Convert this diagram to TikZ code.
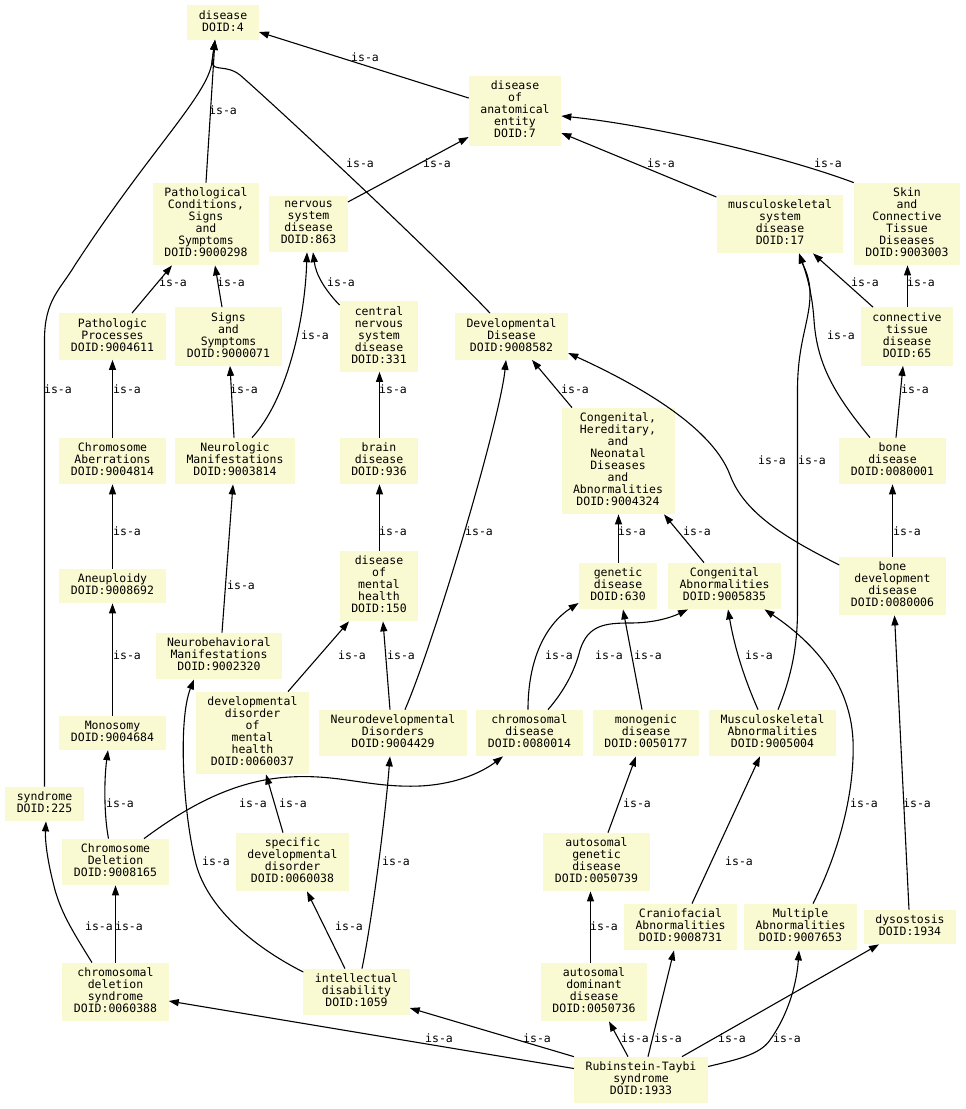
\documentclass[tikz,border=0pt]{standalone}
\usepackage{fontspec}
\newfontfamily\dejamono{DejaVu Sans Mono}
\usetikzlibrary{arrows.meta}
\definecolor{termfill}{HTML}{FAFAD2}

\begin{document}
\begin{tikzpicture}[
  x=1pt, y=-1pt,
  term/.style={fill=termfill, align=center, inner xsep=11.5pt, inner ysep=5pt,
               font=\dejamono\fontsize{11.5}{12}\selectfont,
               execute at begin node=\strut, execute at end node=\strut},
  lbl/.style={font=\dejamono\fontsize{11.5}{12}\selectfont, inner sep=0pt},
  isa/.style={-{Triangle[length=10pt,width=7pt]}, line width=1.1pt}
]
  \useasboundingbox (0,0) rectangle (966,1109);

  % terms, row by row
  \node[term] (n4) at (223,22.5) {disease\\DOID:4};
  \node[term] (n7) at (515,111) {disease\\of\\anatomical\\entity\\DOID:7};

  \node[term] (n9000298) at (206,224) {Pathological\\Conditions,\\Signs\\and\\Symptoms\\DOID:9000298};
  \node[term] (n863) at (308.5,224) {nervous\\system\\disease\\DOID:863};
  \node[term] (n17) at (780,224) {musculoskeletal\\system\\disease\\DOID:17};
  \node[term] (n9003003) at (907,224) {Skin\\and\\Connective\\Tissue\\Diseases\\DOID:9003003};

  \node[term] (n9004611) at (112.5,336.5) {Pathologic\\Processes\\DOID:9004611};
  \node[term] (n9000071) at (228.5,336.5) {Signs\\and\\Symptoms\\DOID:9000071};
  \node[term] (n331) at (379,336.5) {central\\nervous\\system\\disease\\DOID:331};
  \node[term] (n9008582) at (511.5,336.5) {Developmental\\Disease\\DOID:9008582};
  \node[term] (n65) at (907,336.5) {connective\\tissue\\disease\\DOID:65};

  \node[term] (n9004814) at (112.5,461) {Chromosome\\Aberrations\\DOID:9004814};
  \node[term] (n9003814) at (235,461) {Neurologic\\Manifestations\\DOID:9003814};
  \node[term] (n936) at (379,461) {brain\\disease\\DOID:936};
  \node[term] (n9004324) at (618,461) {Congenital,\\Hereditary,\\and\\Neonatal\\Diseases\\and\\Abnormalities\\DOID:9004324};
  \node[term] (n0080001) at (892.5,461) {bone\\disease\\DOID:0080001};

  \node[term] (n9008692) at (112.5,586) {Aneuploidy\\DOID:9008692};
  \node[term] (n150) at (379,586) {disease\\of\\mental\\health\\DOID:150};
  \node[term] (n630) at (618,586) {genetic\\disease\\DOID:630};
  \node[term] (n9005835) at (724.5,586) {Congenital\\Abnormalities\\DOID:9005835};
  \node[term] (n0080006) at (892.5,586) {bone\\development\\disease\\DOID:0080006};
  \node[term] (n9002320) at (219,656) {Neurobehavioral\\Manifestations\\DOID:9002320};

  \node[term] (n9004684) at (112.5,733) {Monosomy\\DOID:9004684};
  \node[term] (n0060037) at (252.5,733) {developmental\\disorder\\of\\mental\\health\\DOID:0060037};
  \node[term] (n9004429) at (393,733) {Neurodevelopmental\\Disorders\\DOID:9004429};
  \node[term] (n0080014) at (529.5,733) {chromosomal\\disease\\DOID:0080014};
  \node[term] (n0050177) at (646,733) {monogenic\\disease\\DOID:0050177};
  \node[term] (n9005004) at (772.5,733) {Musculoskeletal\\Abnormalities\\DOID:9005004};
  \node[term] (n225) at (44.5,804) {syndrome\\DOID:225};

  \node[term] (n9008165) at (115.5,862) {Chromosome\\Deletion\\DOID:9008165};
  \node[term] (n0060038) at (292.5,862) {specific\\developmental\\disorder\\DOID:0060038};
  \node[term] (n0050739) at (596.5,862) {autosomal\\genetic\\disease\\DOID:0050739};
  \node[term] (n9008731) at (680.5,927) {Craniofacial\\Abnormalities\\DOID:9008731};
  \node[term] (n9007653) at (800.5,927) {Multiple\\Abnormalities\\DOID:9007653};
  \node[term] (n1934) at (910,927) {dysostosis\\DOID:1934};

  \node[term] (n0060388) at (115.5,992) {chromosomal\\deletion\\syndrome\\DOID:0060388};
  \node[term] (n1059) at (356.5,992) {intellectual\\disability\\DOID:1059};
  \node[term] (n0050736) at (594,992) {autosomal\\dominant\\disease\\DOID:0050736};
  \node[term] (n1933) at (641,1080) {Rubinstein-Taybi\\syndrome\\DOID:1933};

  % is-a edges, child -> parent
  \draw[isa] ([yshift=13pt]n7.west) -- ([yshift=-9.5pt]n4.east) node[lbl] at (365,57) {is-a};
  \draw[isa] (n9000298.north) -- ([xshift=-8pt]n4.south) node[lbl] at (223,110) {is-a};
  \draw[isa] (n225.north) -- (44.5,340) .. controls (44.5,300) and (60,290) .. (75,265)
    .. controls (150,150) and (208,95) .. (212,62) -- ([xshift=-8pt]n4.south) node[lbl] at (58,389) {is-a};
  \draw[isa] ([xshift=-21.5pt]n9008582.north) .. controls (430,250) and (280,110) .. (240,75)
    .. controls (226,64) and (213,72) .. (212,62) -- ([xshift=-8pt]n4.south) node[lbl] at (360,163) {is-a};
  \draw[isa] ([yshift=22pt]n863.east) -- ([yshift=-26pt]n7.west) node[lbl] at (437,163) {is-a};
  \draw[isa] ([yshift=27pt]n17.west) -- ([yshift=-22pt]n7.east) node[lbl] at (661,163) {is-a};
  \draw[isa] (n9003003.north west) .. controls (780,155) and (650,125) .. ([yshift=-5pt]n7.east) node[lbl] at (828,163) {is-a};

  \draw[isa] ([xshift=19.5pt]n9004611.north) -- ([xshift=-34pt]n9000298.south) node[lbl] at (173,282) {is-a};
  \draw[isa] ([xshift=-6.5pt]n9000071.north) -- ([xshift=9pt]n9000298.south) node[lbl] at (231,282) {is-a};
  \draw[isa] ([yshift=-4pt]n331.north west) .. controls (325,290) and (316,275) .. ([xshift=4.5pt]n863.south) node[lbl] at (341,282) {is-a};
  \draw[isa] ([xshift=17pt]n9003814.north) .. controls (287,400) and (305,320) .. ([xshift=-1.5pt]n863.south) node[lbl] at (315,335) {is-a};
  \draw[isa] ([xshift=-34pt]n65.north) -- ([xshift=33pt]n17.south) node[lbl] at (865,282) {is-a};
  \draw[isa] ([xshift=.5pt]n65.north) -- ([xshift=.5pt]n9003003.south) node[lbl] at (921,282) {is-a};
  \draw[isa] ([xshift=-22.5pt]n0080001.north) .. controls (835,395) and (817,365) .. (814,320)
    .. controls (812,290) and (805,270) .. ([xshift=19pt]n17.south) node[lbl] at (841,335) {is-a};
  \draw[isa] ([xshift=5.5pt]n9005004.north) .. controls (790,680) and (797.5,650) .. (797.5,610) -- (797.5,390)
    .. controls (797.5,340) and (811,320) .. (810,290) .. controls (809,275) and (803,265) .. ([xshift=19pt]n17.south)
    node[lbl] at (812,460) {is-a};

  \draw[isa] (n9004814) -- (n9004611) node[lbl] at (127,389) {is-a};
  \draw[isa] ([xshift=-1pt]n9003814.north) -- ([xshift=1.5pt]n9000071.south) node[lbl] at (244,389) {is-a};
  \draw[isa] ([xshift=.5pt]n936.north) -- ([xshift=.5pt]n331.south) node[lbl] at (393,389) {is-a};
  \draw[isa] ([xshift=-46pt]n9004324.north) -- ([xshift=20.5pt]n9008582.south) node[lbl] at (575,389) {is-a};
  \draw[isa] ([xshift=3.5pt]n0080001.north) -- ([xshift=-4pt]n65.south) node[lbl] at (915,389) {is-a};
  \draw[isa] ([yshift=21pt]n0080006.west) .. controls (790,540) and (745,515) .. (730,475)
    .. controls (715,435) and (660,395) .. ([yshift=-16.5pt]n9008582.east) node[lbl] at (772,460) {is-a};

  \draw[isa] (n9008692) -- (n9004814) node[lbl] at (127,531) {is-a};
  \draw[isa] ([xshift=3pt]n9002320.north) -- ([xshift=-2pt]n9003814.south) node[lbl] at (241,585) {is-a};
  \draw[isa] ([xshift=.5pt]n150.north) -- ([xshift=.5pt]n936.south) node[lbl] at (393,531) {is-a};
  \draw[isa] ([xshift=12pt]n9004429.north) .. controls (435,640) and (500,420) .. ([xshift=-5.5pt]n9008582.south) node[lbl] at (479,531) {is-a};
  \draw[isa] ([xshift=.5pt]n630.north) -- ([xshift=.5pt]n9004324.south) node[lbl] at (632,531) {is-a};
  \draw[isa] ([xshift=-20.5pt]n9005835.north) -- ([xshift=46pt]n9004324.south) node[lbl] at (697,531) {is-a};
  \draw[isa] (n0080006) -- (n0080001) node[lbl] at (907,531) {is-a};

  \draw[isa] (n9004684) -- (n9008692) node[lbl] at (127,655) {is-a};
  \draw[isa] ([xshift=35.5pt]n0060037.north) -- ([xshift=-30pt]n150.south) node[lbl] at (352,655) {is-a};
  \draw[isa] ([xshift=-3pt]n9004429.north) -- ([xshift=4pt]n150.south) node[lbl] at (401,655) {is-a};
  \draw[isa] ([xshift=-1.5pt]n0080014.north) .. controls (528,660) and (545,625) .. ([yshift=-17pt]n630.west) node[lbl] at (559,655) {is-a};
  \draw[isa] ([xshift=18.5pt]n0080014.north) .. controls (565,690) and (575,670) .. (580,650)
    .. controls (588,625) and (605,623) .. (630,623) .. controls (655,623) and (672,617) .. ([xshift=-36.5pt]n9005835.south)
    node[lbl] at (609,655) {is-a};
  \draw[isa] ([xshift=-4pt]n0050177.north) -- ([xshift=5pt]n630.south) node[lbl] at (648,655) {is-a};
  \draw[isa] ([xshift=-14.5pt]n9005004.north) .. controls (745,680) and (735,650) .. ([xshift=3.5pt]n9005835.south) node[lbl] at (759,655) {is-a};

  \draw[isa] ([xshift=-7pt]n9008165.north) .. controls (104,815) and (104,780) .. ([xshift=-4.5pt]n9004684.south) node[lbl] at (120,803) {is-a};
  \draw[isa] ([xshift=28.5pt]n9008165.north) .. controls (180,812) and (230,780) .. (290,777)
    .. controls (340,774) and (370,788) .. (420,786) .. controls (460,784) and (485,770) .. ([xshift=-26.5pt]n0080014.south)
    node[lbl] at (253,803) {is-a};
  \draw[isa] ([xshift=-9.5pt]n0060038.north) -- ([xshift=13.5pt]n0060037.south) node[lbl] at (293,803) {is-a};
  \draw[isa] ([xshift=11.5pt]n0050739.north) -- ([xshift=-10pt]n0050177.south) node[lbl] at (637,803) {is-a};
  \draw[isa] ([xshift=12.5pt]n9007653.north) .. controls (840,850) and (855,790) .. (853,740)
    .. controls (850,680) and (810,640) .. ([xshift=40pt]n9005835.south) node[lbl] at (864,803) {is-a};
  \draw[isa] ([xshift=-1pt]n1934.north) -- ([xshift=2pt]n0080006.south) node[lbl] at (917,803) {is-a};

  \draw[isa] ([yshift=20pt]n1059.west) .. controls (250,945) and (205,905) .. (195,860)
    .. controls (183,810) and (178,720) .. ([xshift=-25pt]n9002320.south) node[lbl] at (216,861) {is-a};
  \draw[isa] ([xshift=5.5pt]n1059.north) .. controls (372,920) and (385,820) .. ([xshift=-3pt]n9004429.south) node[lbl] at (396,861) {is-a};
  \draw[isa] ([xshift=11.5pt]n9008731.north) -- ([xshift=-12.5pt]n9005004.south) node[lbl] at (739,861) {is-a};

  \draw[isa] ([xshift=-23.5pt]n0060388.north) .. controls (75,935) and (62,915) .. (55,890)
    .. controls (47,860) and (45,840) .. ([xshift=1.5pt]n225.south) node[lbl] at (99,926) {is-a};
  \draw[isa] (n0060388) -- (n9008165) node[lbl] at (129,926) {is-a};
  \draw[isa] ([xshift=-11.5pt]n1059.north) -- ([xshift=14.5pt]n0060038.south) node[lbl] at (349,926) {is-a};
  \draw[isa] ([xshift=-3.5pt]n0050736.north) -- ([xshift=-6pt]n0050739.south) node[lbl] at (604,926) {is-a};

  \draw[isa] ([yshift=11.5pt]n1933.west) -- ([yshift=-9pt]n0060388.east) node[lbl] at (439,1038) {is-a};
  \draw[isa] (n1933.north west) -- ([yshift=-16pt]n1059.east) node[lbl] at (537,1038) {is-a};
  \draw[isa] ([xshift=-13pt]n1933.north) -- ([xshift=15pt]n0050736.south) node[lbl] at (635,1038) {is-a};
  \draw[isa] ([xshift=7pt]n1933.north) -- ([xshift=-6.5pt]n9008731.south) node[lbl] at (668,1038) {is-a};
  \draw[isa] ([xshift=41pt]n1933.north) -- ([xshift=-31pt]n1934.south) node[lbl] at (732,1038) {is-a};
  \draw[isa] ([yshift=13.5pt]n1933.east) .. controls (735,1060) and (760,1055) .. (770,1040)
    .. controls (790,1012) and (797,980) .. ([xshift=-1.5pt]n9007653.south) node[lbl] at (787,1038) {is-a};
\end{tikzpicture}
\end{document}
